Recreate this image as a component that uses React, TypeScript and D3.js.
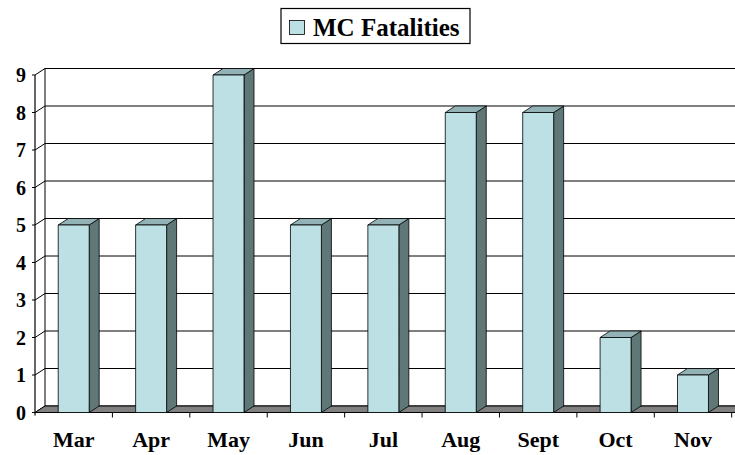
import React from "react";
import * as d3 from "d3";

const months = ["Mar", "Apr", "May", "Jun", "Jul", "Aug", "Sept", "Oct", "Nov"];
const fatalities = [5, 5, 9, 5, 5, 8, 8, 2, 1];
const yTicks = [0, 1, 2, 3, 4, 5, 6, 7, 8, 9];
const seriesName = "MC Fatalities";

const W = 735;
const H = 455;
const DX = 10;
const DY = -6.5;
const FRONT = "#BCE0E4";
const TOP = "#93B2B5";
const SIDE = "#5F7777";

const css = `text { font-family: "Liberation Serif", "Times New Roman", Tinos, serif; font-weight: bold; fill: #000; }`;

export default function App() {
  const x = d3
    .scaleBand<string>()
    .domain(months)
    .range([35, 731.7])
    .paddingInner(0.6)
    .paddingOuter(0.3);
  const y = d3.scaleLinear().domain([0, 9]).range([412.5, 75]);
  const step = x.step();
  const x0 = 35;
  const bw = x.bandwidth();

  return (
    <div style={{ fontFamily: '"Liberation Serif", serif' }}>
      <svg
        width={W}
        height={H}
        style={{ position: "absolute", left: 0, top: 0, background: "#fff" }}
      >
        <style>{css}</style>
        {yTicks.map((t) => (
          <g key={"g" + t}>
            <line x1={x0 + DX} x2={W + 20} y1={y(t) + DY} y2={y(t) + DY} stroke="#000" strokeWidth={1} />
            <line x1={x0} x2={x0 + DX} y1={y(t)} y2={y(t) + DY} stroke="#000" strokeWidth={1} />
          </g>
        ))}
        <line x1={x0 + DX} x2={x0 + DX} y1={y(9) + DY} y2={y(0) + DY} stroke="#000" strokeWidth={1} />
        <polygon
          points={`${x0},${y(0)} ${W + 20},${y(0)} ${W + 20 + DX},${y(0) + DY} ${x0 + DX},${y(0) + DY}`}
          fill="#808080"
          stroke="#000"
          strokeWidth={1}
        />
        {months.map((m, i) => {
          const bx = x(m) as number;
          const top = y(fatalities[i]);
          const bottom = y(0);
          return (
            <g key={m} stroke="#000" strokeWidth={0.8} strokeLinejoin="round">
              <polygon
                points={`${bx + bw},${bottom} ${bx + bw + DX},${bottom + DY} ${bx + bw + DX},${top + DY} ${bx + bw},${top}`}
                fill={SIDE}
              />
              <polygon
                points={`${bx},${top} ${bx + DX},${top + DY} ${bx + bw + DX},${top + DY} ${bx + bw},${top}`}
                fill={TOP}
              />
              <rect x={bx} y={top} width={bw} height={bottom - top} fill={FRONT} />
            </g>
          );
        })}
        <line x1={x0} x2={x0} y1={y(9)} y2={y(0) + 3} stroke="#000" strokeWidth={1.2} />
        {yTicks.map((t) => (
          <line key={"ytl" + t} x1={x0 - 3} x2={x0} y1={y(t)} y2={y(t)} stroke="#000" strokeWidth={1} />
        ))}
        {yTicks.map((t) => (
          <text key={"yt" + t} x={26} y={y(t) + 7} textAnchor="end" fontSize={20}>
            {t}
          </text>
        ))}
        {months.map((m, i) => (
          <line
            key={"xt" + m}
            x1={x0 + step * (i + 1)}
            x2={x0 + step * (i + 1)}
            y1={y(0)}
            y2={y(0) + 5}
            stroke="#000"
            strokeWidth={1}
          />
        ))}
        {months.map((m) => (
          <text key={"xl" + m} x={(x(m) as number) + bw / 2} y={446.5} textAnchor="middle" fontSize={22}>
            {m}
          </text>
        ))}
        <rect x={281} y={8.5} width={189} height={35} fill="#fff" stroke="#000" strokeWidth={1.2} />
        <rect x={289.5} y={20.5} width={15} height={14} fill={FRONT} stroke="#000" strokeWidth={0.8} />
        <text x={313} y={35.5} fontSize={25}>
          {seriesName}
        </text>
      </svg>
    </div>
  );
}
